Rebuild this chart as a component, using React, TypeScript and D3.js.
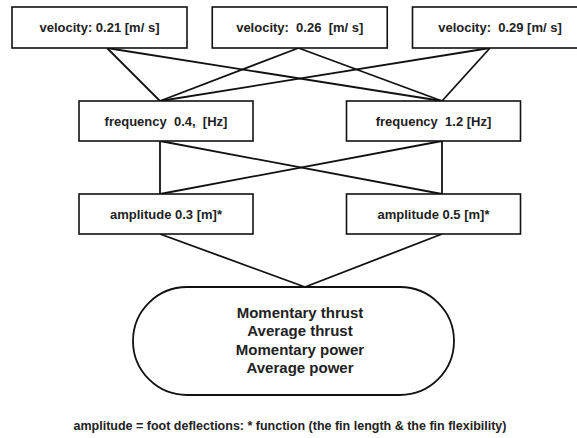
import { useRef, useEffect } from "react";
import * as d3 from "d3";

// ── Diagram content ──────────────────────────────────────────────────────────

const velocityLabels = ["velocity: 0.21 [m/ s]", "velocity:  0.26  [m/ s]", "velocity:  0.29 [m/ s]"];
const frequencyLabels = ["frequency  0.4,  [Hz]", "frequency  1.2 [Hz]"];
const amplitudeLabels = ["amplitude 0.3 [m]*", "amplitude 0.5 [m]*"];
const outputLabels = ["Momentary thrust", "Average thrust", "Momentary power", "Average power"];
const footnote = "amplitude = foot deflections: * function (the fin length & the fin flexibility)";

const W = 577;
const H = 438;
const FONT = "'Liberation Sans', Arial, Helvetica, sans-serif";

export default function App() {
  const svgRef = useRef<SVGSVGElement>(null);

  useEffect(() => {
    if (!svgRef.current) return;
    const svg = d3.select(svgRef.current);
    svg.selectAll("*").remove();

    // row positions
    const vBox = d3.scalePoint<string>().domain(velocityLabels).range([99.5, 500]);
    const vAnchor = d3.scalePoint<string>().domain(velocityLabels).range([107, 490]);
    const fBox = d3.scalePoint<string>().domain(frequencyLabels).range([166, 433.5]);
    const fAnchor = d3.scalePoint<string>().domain(frequencyLabels).range([160, 442]);
    const aBox = d3.scalePoint<string>().domain(amplitudeLabels).range([166, 433.5]);
    const aAnchor = d3.scalePoint<string>().domain(amplitudeLabels).range([160, 442]);

    const rows = {
      v: { top: 7, bottom: 48, w: 175 },
      f: { top: 101, bottom: 141, w: 174 },
      a: { top: 194, bottom: 234, w: 174 },
    };
    const pill = { x0: 133, x1: 454, y0: 287, y1: 395 };
    const pillTop = 305;

    const line = d3.line<[number, number]>();
    const links: [number, number][][] = [];
    velocityLabels.forEach((v) =>
      frequencyLabels.forEach((f) =>
        links.push([[vAnchor(v)!, rows.v.bottom], [fAnchor(f)!, rows.f.top]])
      )
    );
    frequencyLabels.forEach((f) =>
      amplitudeLabels.forEach((a) =>
        links.push([[fAnchor(f)!, rows.f.bottom], [aAnchor(a)!, rows.a.top]])
      )
    );
    amplitudeLabels.forEach((a) =>
      links.push([[aAnchor(a)!, rows.a.bottom], [pillTop, pill.y0]])
    );

    svg
      .append("g")
      .selectAll("path")
      .data(links)
      .enter()
      .append("path")
      .attr("d", (d) => line(d) ?? "")
      .attr("fill", "none")
      .attr("stroke", "#111")
      .attr("stroke-width", 1.8);

    const drawRow = (
      labels: string[],
      scale: d3.ScalePoint<string>,
      r: { top: number; bottom: number; w: number }
    ) => {
      const g = svg.append("g");
      const nodes = g.selectAll("g").data(labels).enter().append("g");
      nodes
        .append("rect")
        .attr("x", (d) => scale(d)! - r.w / 2)
        .attr("y", r.top)
        .attr("width", r.w)
        .attr("height", r.bottom - r.top)
        .attr("fill", "#fff")
        .attr("stroke", "#111")
        .attr("stroke-width", 1.6);
      nodes
        .append("text")
        .attr("x", (d) => scale(d)!)
        .attr("y", (r.top + r.bottom) / 2 + 4.5)
        .attr("text-anchor", "middle")
        .attr("font-family", FONT)
        .attr("font-weight", 700)
        .attr("font-size", 13)
        .attr("fill", "#222")
        .style("white-space", "pre")
        .text((d) => d);
    };

    drawRow(velocityLabels, vBox, rows.v);
    drawRow(frequencyLabels, fBox, rows.f);
    drawRow(amplitudeLabels, aBox, rows.a);

    // output pill
    const ph = pill.y1 - pill.y0;
    svg
      .append("rect")
      .attr("x", pill.x0)
      .attr("y", pill.y0)
      .attr("width", pill.x1 - pill.x0)
      .attr("height", ph)
      .attr("rx", ph / 2)
      .attr("ry", ph / 2)
      .attr("fill", "#fff")
      .attr("stroke", "#111")
      .attr("stroke-width", 1.8);

    const ly = d3.scaleLinear().domain([0, outputLabels.length - 1]).range([318, 373]);
    svg
      .append("g")
      .selectAll("text")
      .data(outputLabels)
      .enter()
      .append("text")
      .attr("x", 300)
      .attr("y", (_d, i) => ly(i))
      .attr("text-anchor", "middle")
      .attr("font-family", FONT)
      .attr("font-weight", 700)
      .attr("font-size", 15)
      .attr("fill", "#222")
      .text((d) => d);

    svg
      .append("text")
      .attr("x", 290)
      .attr("y", 430)
      .attr("text-anchor", "middle")
      .attr("font-family", FONT)
      .attr("font-weight", 700)
      .attr("font-size", 12.5)
      .attr("fill", "#222")
      .text(footnote);
  }, []);

  return (
    <div style={{ position: "absolute", left: 0, top: 0 }}>
      <svg ref={svgRef} width={W} height={H} style={{ display: "block", background: "#fff" }} />
    </div>
  );
}
